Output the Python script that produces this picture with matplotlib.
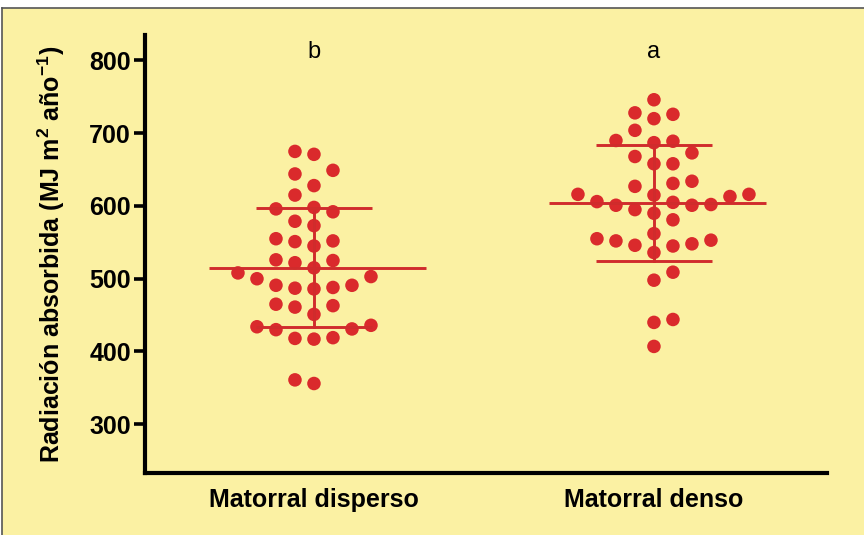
import numpy as np
import matplotlib
matplotlib.use("Agg")
import matplotlib.pyplot as plt
from matplotlib.patches import Rectangle
from matplotlib.lines import Line2D

plt.rcParams['font.family'] = ['Liberation Sans', 'DejaVu Sans']
plt.rcParams['mathtext.fontset'] = 'custom'
plt.rcParams['mathtext.rm'] = 'Liberation Sans:bold'
plt.rcParams['mathtext.bf'] = 'Liberation Sans:bold'
plt.rcParams['mathtext.it'] = 'Liberation Sans:bold'

# ---- data ----
categories = ["Matorral disperso", "Matorral denso"]
letters = ["b", "a"]
disperso = [675, 671, 644, 649, 628, 615, 598, 592, 596, 573, 579, 555, 551, 545,
            552, 525, 515, 522, 526, 508, 500, 503, 491, 487, 486, 488, 491, 463,
            451, 461, 465, 434, 430, 431, 436, 418, 417, 419, 356, 361]
denso = [746, 726, 720, 728, 704, 689, 687, 690, 673, 658, 658, 668, 631, 627,
         634, 613, 616, 615, 616, 605, 601, 595, 590, 601, 581, 602, 606, 562,
         553, 548, 545, 546, 552, 555, 536, 509, 498, 444, 440, 407]
yticks = [300, 400, 500, 600, 700, 800]
groups = [disperso, denso]

BG = "#FBF1A3"
RED = "#DA2A2C"
LINE_RED = "#D02C2C"

W, H = 864, 535
fig = plt.figure(figsize=(W / 100, H / 100), dpi=100)
fig.patch.set_facecolor("white")
# yellow panel with thin frame on top/left
fig.patches.append(Rectangle((2 / W, 0), 1, 1 - 8 / H, transform=fig.transFigure,
                             facecolor=BG, edgecolor="none", zorder=-10))
fig.lines.append(Line2D([2 / W, 1], [1 - 8 / H, 1 - 8 / H], transform=fig.transFigure,
                        color="#555555", lw=1.2))
fig.lines.append(Line2D([2 / W, 2 / W], [0, 1 - 8 / H], transform=fig.transFigure,
                        color="#555555", lw=1.2))

ax = fig.add_axes([145 / W, 1 - 473 / H, (827 - 145) / W, (473 - 35) / H])
ax.set_facecolor("none")
ax.set_xlim(-0.497, 1.509)
ax.set_ylim(233, 835)

fig.canvas.draw()

# grid-based swarm layout computed in display space
col_px = 19.0
thr_px = 17.0
for gi, vals in enumerate(groups):
    vals = np.array(vals, dtype=float)
    order = np.argsort(vals, kind="stable")
    placed = {}  # column -> list of y pixel
    xs = np.zeros(len(vals))
    cx_px = ax.transData.transform((gi, 0))[0]
    cands = [0]
    for j in range(1, 20):
        cands += [j, -j] if gi == 1 else [-j, j]
    for idx in order:
        ypx = ax.transData.transform((gi, vals[idx]))[1]
        for c in cands:
            if all(abs(ypx - p) >= thr_px for p in placed.get(c, [])):
                placed.setdefault(c, []).append(ypx)
                xs[idx] = ax.transData.inverted().transform((cx_px + c * col_px, ypx))[0]
                break
    ax.scatter(xs, vals, s=95, color=RED, edgecolors="none", zorder=3)

    m = vals.mean()
    sd = vals.std(ddof=1)
    ax.plot([gi - 0.31, gi + 0.33], [m, m], color=LINE_RED, lw=2.1, zorder=4,
            solid_capstyle="butt")
    ax.plot([gi, gi], [m - sd, m + sd], color=LINE_RED, lw=2.1, zorder=4)
    for yy in (m - sd, m + sd):
        ax.plot([gi - 0.17, gi + 0.17], [yy, yy], color=LINE_RED, lw=2.1, zorder=4,
                solid_capstyle="butt")
    ax.text(gi, 812, letters[gi], ha="center", va="center", fontsize=17, color="black")

ax.set_xticks([0, 1])
ax.set_xticklabels(categories, fontsize=18, fontweight="bold")
ax.tick_params(axis="x", length=0, pad=11)
ax.set_yticks(yticks)
ax.set_yticklabels([str(t) for t in yticks], fontsize=18, fontweight="bold")
ax.tick_params(axis="y", length=8, width=2.6, pad=2)
for s in ("top", "right"):
    ax.spines[s].set_visible(False)
for s in ("left", "bottom"):
    ax.spines[s].set_linewidth(3.0)
ax.spines["left"].set_capstyle("projecting")
ax.set_ylabel(r"Radiación absorbida (MJ m$^{2}$ año$^{-1}$)", fontsize=18,
              fontweight="bold", labelpad=16)

fig.savefig("out.png", dpi=100, facecolor=fig.get_facecolor())
